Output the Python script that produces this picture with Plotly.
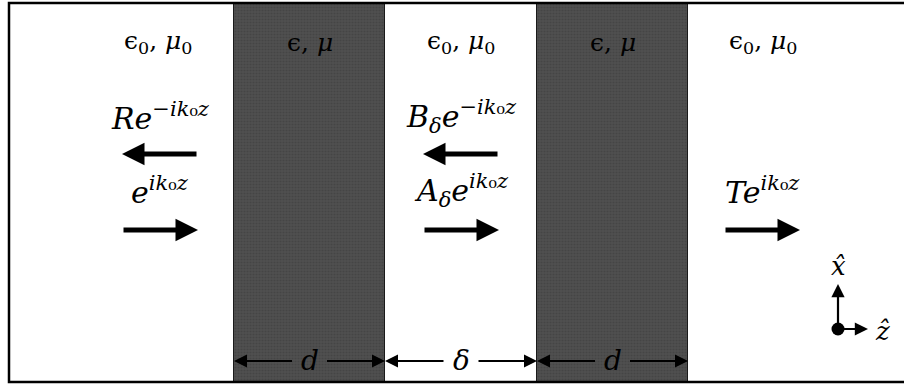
import plotly.graph_objects as go

# ---- data (diagram coordinates along z, in figure units) ----
region_edges = [9, 234, 385, 537, 688, 910]
region_kinds = ["vacuum", "slab", "vacuum", "slab", "vacuum"]
region_labels = ["ϵ<sub>0</sub>, <i>μ</i><sub>0</sub>", "ϵ, <i>μ</i>",
                 "ϵ<sub>0</sub>, <i>μ</i><sub>0</sub>", "ϵ, <i>μ</i>",
                 "ϵ<sub>0</sub>, <i>μ</i><sub>0</sub>"]
label_centers = [158, 310, 461, 613, 763]

backward_labels = ["<i>Re</i><sup>−<i>ik</i>₀<i>z</i></sup>",
                   "<i>B</i><sub><i>δ</i></sub><i>e</i><sup>−<i>ik</i>₀<i>z</i></sup>", None]
forward_labels = ["<i>e</i><sup><i>ik</i>₀<i>z</i></sup>",
                  "<i>A</i><sub><i>δ</i></sub><i>e</i><sup><i>ik</i>₀<i>z</i></sup>",
                  "<i>Te</i><sup><i>ik</i>₀<i>z</i></sup>"]
wave_centers = [160, 461, 762]

dim_labels = ["<i>d</i>", "<i>δ</i>", "<i>d</i>"]
dim_spans = [(234, 385), (385, 537), (537, 688)]

FONT = "DejaVu Serif"
SLAB = "#505050"

fig = go.Figure()
shapes = []
annotations = []

# slabs (textured bars)
slab_x, slab_w = [], []
for (x0, x1, kind) in zip(region_edges[:-1], region_edges[1:], region_kinds):
    if kind == "slab":
        slab_x.append((x0 + x1) / 2)
        slab_w.append(x1 - x0)
fig.add_trace(go.Bar(x=slab_x, y=[379] * len(slab_x), base=3, width=slab_w,
                     marker=dict(color=SLAB, line=dict(color="#1a1a1a", width=1),
                                 pattern=dict(shape=".", fgcolor="#3a3a3a", bgcolor=SLAB,
                                              size=3, solidity=0.4)),
                     hoverinfo="skip", showlegend=False))

# outer border
shapes.append(dict(type="rect", xref="x", yref="y", x0=9, x1=912, y0=3, y1=382,
                   line=dict(color="black", width=2.5), fillcolor="rgba(0,0,0,0)"))

# region labels
for lab, cx in zip(region_labels, label_centers):
    annotations.append(dict(x=cx, y=42, xref="x", yref="y", text=lab, showarrow=False,
                            font=dict(family=FONT, size=25, color="black")))

# wave labels and arrows
for lab, cx in zip(backward_labels, wave_centers):
    if lab is None:
        continue
    annotations.append(dict(x=cx, y=116, xref="x", yref="y", text=lab, showarrow=False,
                            font=dict(family=FONT, size=30, color="black")))
    annotations.append(dict(x=cx - 38, y=154, ax=cx + 38, ay=154, xref="x", yref="y",
                            axref="x", ayref="y", text="", showarrow=True,
                            arrowhead=2, arrowsize=0.9, arrowwidth=5, arrowcolor="black"))
for lab, cx in zip(forward_labels, wave_centers):
    annotations.append(dict(x=cx, y=190, xref="x", yref="y", text=lab, showarrow=False,
                            font=dict(family=FONT, size=30, color="black")))
    annotations.append(dict(x=cx + 38, y=230, ax=cx - 38, ay=230, xref="x", yref="y",
                            axref="x", ayref="y", text="", showarrow=True,
                            arrowhead=2, arrowsize=0.9, arrowwidth=5, arrowcolor="black"))

# dimension arrows
for lab, (x0, x1) in zip(dim_labels, dim_spans):
    cx = (x0 + x1) / 2
    annotations.append(dict(x=cx, y=360, xref="x", yref="y", text=lab, showarrow=False,
                            font=dict(family=FONT, size=28, color="black")))
    annotations.append(dict(x=x0, y=361, ax=cx - 16, ay=361, xref="x", yref="y",
                            axref="x", ayref="y", text="", showarrow=True,
                            arrowhead=2, arrowsize=1.3, arrowwidth=2, arrowcolor="black"))
    annotations.append(dict(x=x1, y=361, ax=cx + 16, ay=361, xref="x", yref="y",
                            axref="x", ayref="y", text="", showarrow=True,
                            arrowhead=2, arrowsize=1.3, arrowwidth=2, arrowcolor="black"))

# coordinate icon
ox, oy = 838, 329
fig.add_trace(go.Scatter(x=[ox], y=[oy], mode="markers",
                         marker=dict(size=13, color="black"), hoverinfo="skip", showlegend=False))
annotations.append(dict(x=ox, y=284, ax=ox, ay=oy, xref="x", yref="y", axref="x", ayref="y",
                        text="", showarrow=True, arrowhead=2, arrowsize=1.2, arrowwidth=2.2,
                        arrowcolor="black"))
annotations.append(dict(x=868, y=oy, ax=ox, ay=oy, xref="x", yref="y", axref="x", ayref="y",
                        text="", showarrow=True, arrowhead=2, arrowsize=1.2, arrowwidth=2.2,
                        arrowcolor="black"))
annotations.append(dict(x=838, y=266, xref="x", yref="y", text="<i>x̂</i>", showarrow=False,
                        font=dict(family=FONT, size=26, color="black")))
annotations.append(dict(x=882, y=331, xref="x", yref="y", text="<i>ẑ</i>", showarrow=False,
                        font=dict(family=FONT, size=26, color="black")))

fig.update_layout(
    width=904, height=385, margin=dict(l=0, r=0, t=0, b=0),
    paper_bgcolor="white", plot_bgcolor="white",
    xaxis=dict(range=[0, 904], visible=False, fixedrange=True),
    yaxis=dict(range=[385, 0], visible=False, fixedrange=True),
    shapes=shapes, annotations=annotations, showlegend=False, bargap=0,
)

fig.write_html("out.html", config={"displayModeBar": False},
               post_script="document.body.style.margin='0';document.body.style.overflow='hidden';")
